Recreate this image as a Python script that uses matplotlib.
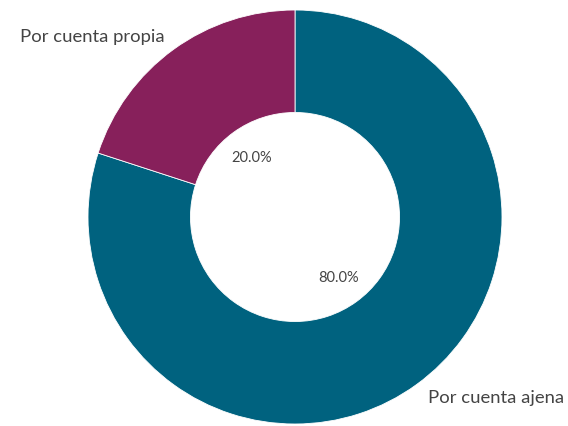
import matplotlib
matplotlib.use("Agg")
import matplotlib.pyplot as plt

categories = ["Por cuenta ajena", "Por cuenta propia"]
values = [80.0, 20.0]
colors = ["#00627F", "#87205B"]

plt.rcParams['font.family'] = ['Lato', 'DejaVu Sans']

fig = plt.figure(figsize=(5.68, 4.27), dpi=100)
ax = fig.add_axes([0, 0, 1, 1])

cx, cy, R = 295, 427 - 218, 207
wedges, texts, autotexts = ax.pie(
    values, colors=colors, startangle=90, counterclock=False,
    center=(cx, cy), radius=R,
    wedgeprops=dict(width=R * 0.495, edgecolor='white', linewidth=0.6),
    autopct=lambda p: f"{p:.1f}%", pctdistance=0.36,
    textprops=dict(color="#444444", fontsize=10.5),
    frame=True)
ax.set_xlim(0, 568)
ax.set_ylim(0, 427)
ax.set_aspect('equal')
ax.axis('off')

ax.text(20, 427 - 37, categories[1], ha='left', va='center', fontsize=13.3, color="#444444")
ax.text(428, 427 - 398, categories[0], ha='left', va='center', fontsize=13.3, color="#444444")

fig.savefig("out.png", dpi=100)
